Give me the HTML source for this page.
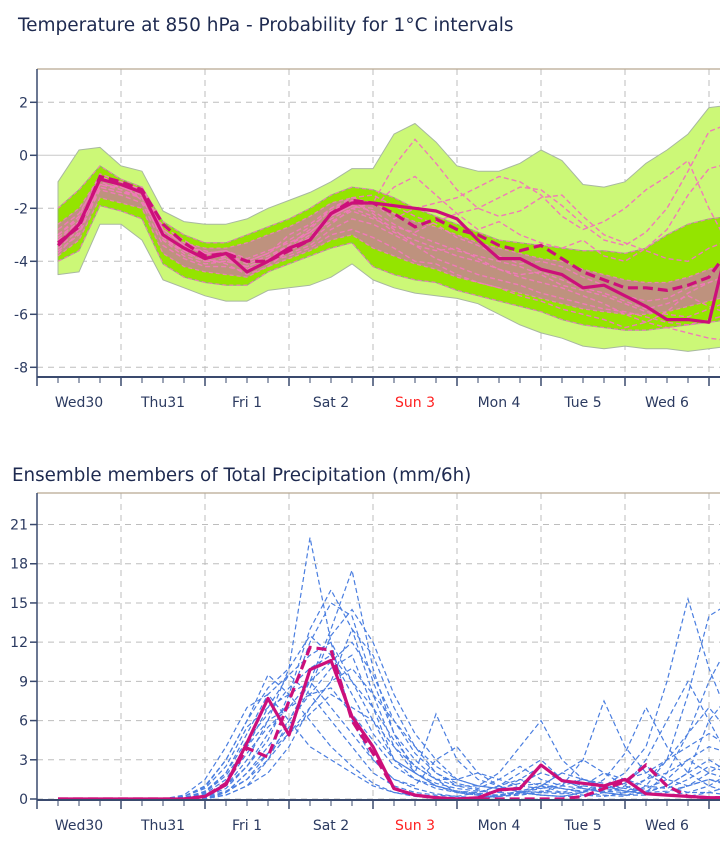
<!DOCTYPE html>
<html><head><meta charset="utf-8">
<style>
body{margin:0;background:#fff;width:720px;height:863px;overflow:hidden;font-family:"Liberation Sans","DejaVu Sans",sans-serif}
svg{display:block}
</style></head>
<body>
<svg id="chart" width="720" height="863" viewBox="0 0 720 863" xmlns="http://www.w3.org/2000/svg" font-family="DejaVu Sans, Liberation Sans, sans-serif">
<defs>
<clipPath id="clipT"><rect x="37" y="69" width="683" height="308"/></clipPath>
<clipPath id="clipB"><rect x="37" y="493" width="683" height="307"/></clipPath>
</defs>
<text x="18" y="31" font-size="18.5" fill="#1e2a50">Temperature at 850 hPa - Probability for 1°C intervals</text>
<text x="12" y="481" font-size="18.3" fill="#1e2a50">Ensemble members of Total Precipitation (mm/6h)</text>
<g id="topPlot"></g>
<g id="botPlot"></g>
</svg>
<script>
const days = ["Wed30","Thu31","Fri 1","Sat 2","Sun 3","Mon 4","Tue 5","Wed 6"];
const tempTicks = [2,0,-2,-4,-6,-8];
const precTicks = [0,3,6,9,12,15,18,21];
const outerHi = [-1.0,0.2,0.3,-0.4,-0.6,-2.1,-2.5,-2.6,-2.6,-2.4,-2.0,-1.7,-1.4,-1.0,-0.5,-0.5,0.8,1.2,0.5,-0.4,-0.6,-0.6,-0.3,0.2,-0.2,-1.1,-1.2,-1.0,-0.3,0.2,0.8,1.8,1.9];
const outerLo = [-4.5,-4.4,-2.6,-2.6,-3.2,-4.7,-5.0,-5.3,-5.5,-5.5,-5.1,-5.0,-4.9,-4.6,-4.1,-4.7,-5.0,-5.2,-5.3,-5.4,-5.6,-6.0,-6.4,-6.7,-6.9,-7.2,-7.3,-7.2,-7.3,-7.3,-7.4,-7.3,-7.2];
const midHi = [-2.0,-1.3,-0.4,-0.9,-1.2,-2.5,-3.0,-3.3,-3.3,-3.0,-2.7,-2.4,-2.0,-1.5,-1.2,-1.3,-1.6,-2.0,-2.3,-2.6,-2.9,-3.2,-3.3,-3.4,-3.5,-3.6,-3.6,-3.7,-3.5,-3.0,-2.6,-2.4,-2.3];
const midLo = [-4.0,-3.6,-1.9,-2.1,-2.4,-4.1,-4.6,-4.8,-4.9,-4.9,-4.4,-4.1,-3.8,-3.5,-3.3,-4.2,-4.5,-4.7,-4.8,-5.1,-5.3,-5.5,-5.7,-5.9,-6.2,-6.4,-6.5,-6.6,-6.6,-6.5,-6.4,-6.3,-6.2];
const innerHi = [-2.6,-2.0,-0.8,-1.1,-1.4,-2.8,-3.3,-3.5,-3.5,-3.3,-3.0,-2.7,-2.3,-1.8,-1.6,-1.8,-2.2,-2.5,-2.7,-3.0,-3.3,-3.5,-3.7,-3.9,-4.0,-4.3,-4.5,-4.7,-4.8,-4.8,-4.6,-4.3,-4.0];
const innerLo = [-3.8,-3.2,-1.6,-1.8,-2.0,-3.7,-4.2,-4.4,-4.5,-4.6,-4.2,-3.9,-3.6,-3.2,-3.0,-3.5,-3.8,-4.1,-4.3,-4.6,-4.8,-5.0,-5.2,-5.4,-5.6,-5.8,-5.9,-6.0,-6.0,-5.9,-5.7,-5.5,-5.3];
const tempControl = [-3.4,-2.6,-0.9,-1.1,-1.4,-3.0,-3.5,-3.9,-3.7,-4.4,-4.0,-3.5,-3.2,-2.2,-1.8,-1.8,-1.9,-2.0,-2.1,-2.4,-3.2,-3.9,-3.9,-4.3,-4.5,-5.0,-4.9,-5.3,-5.7,-6.2,-6.2,-6.3,-3.0];
const tempMain = [-3.3,-2.7,-0.8,-1.0,-1.3,-2.6,-3.3,-3.8,-3.7,-4.0,-4.0,-3.6,-3.2,-2.2,-1.7,-1.8,-2.2,-2.7,-2.4,-2.8,-3.0,-3.4,-3.6,-3.4,-3.9,-4.4,-4.7,-5.0,-5.0,-5.1,-4.9,-4.6,-3.5];
const t1 = [-3.0,-2.3,-0.7,-1.0,-1.3,-2.8,-3.4,-3.7,-3.6,-3.9,-3.6,-3.3,-2.9,-2.3,-1.9,-2.0,-1.2,-0.8,-1.5,-2.2,-2.8,-2.5,-3.0,-3.3,-3.5,-3.2,-3.8,-4.0,-3.5,-2.8,-1.5,-0.5,-0.3];
const t2 = [-3.6,-3.0,-1.2,-1.4,-1.6,-3.2,-3.8,-4.1,-4.0,-4.2,-3.9,-3.7,-3.4,-2.8,-2.4,-2.6,-3.0,-3.4,-3.9,-4.2,-4.5,-4.7,-4.9,-5.2,-5.4,-5.6,-5.8,-5.9,-6.1,-6.3,-6.4,-6.2,-6.0];
const t3 = [-2.8,-2.2,-0.9,-1.2,-1.5,-2.9,-3.5,-3.6,-3.8,-4.0,-3.7,-3.0,-2.6,-2.0,-1.6,-1.5,-1.9,-2.3,-2.6,-3.1,-3.4,-3.8,-4.1,-4.0,-4.2,-4.6,-4.9,-5.3,-5.5,-5.4,-5.0,-4.8,-4.5];
const t4 = [-3.4,-2.6,-1.0,-1.3,-1.2,-2.7,-3.2,-3.7,-3.9,-4.3,-4.1,-3.5,-3.0,-2.5,-2.1,-2.4,-2.7,-2.9,-2.5,-2.2,-2.0,-1.6,-1.2,-1.3,-1.9,-2.6,-3.2,-3.4,-2.9,-2.0,-0.6,0.9,1.2];
const t5 = [-3.2,-2.5,-0.8,-1.1,-1.7,-3.1,-3.6,-3.9,-3.8,-4.1,-3.8,-3.4,-2.8,-2.0,-1.7,-2.2,-2.8,-3.4,-3.6,-3.5,-3.9,-4.3,-4.6,-4.8,-5.0,-5.3,-5.6,-6.0,-6.3,-6.5,-6.7,-6.9,-7.0];
const t6 = [-3.0,-2.4,-1.1,-1.2,-1.4,-3.0,-3.5,-3.9,-4.1,-4.5,-4.2,-3.6,-3.2,-2.6,-2.0,-1.8,-0.4,0.6,-0.3,-1.3,-2.0,-2.3,-2.1,-1.6,-1.5,-2.3,-3.0,-3.3,-3.6,-3.9,-4.0,-3.5,-3.2];
const t7 = [-3.7,-2.9,-1.3,-1.5,-1.8,-3.4,-3.9,-4.2,-4.2,-4.4,-4.0,-3.8,-3.5,-3.0,-2.8,-3.1,-3.5,-4.0,-4.1,-4.5,-4.8,-5.0,-5.3,-5.5,-5.8,-6.0,-6.2,-6.5,-6.3,-5.9,-5.2,-4.8,-4.5];
const t8 = [-3.1,-2.5,-0.9,-1.0,-1.3,-2.8,-3.4,-3.7,-3.6,-4.0,-3.7,-3.2,-2.7,-2.1,-1.7,-1.8,-2.4,-2.0,-1.8,-1.6,-1.2,-0.8,-1.0,-1.5,-2.3,-2.8,-2.5,-2.0,-1.3,-0.8,-0.2,-2.0,-3.5];
const t9 = [-3.3,-2.7,-1.2,-1.4,-1.5,-3.1,-3.7,-4.0,-3.9,-4.3,-4.0,-3.5,-3.1,-2.4,-2.0,-2.3,-2.9,-3.2,-3.5,-3.8,-4.0,-4.3,-4.5,-4.4,-4.7,-5.0,-5.2,-5.5,-5.8,-5.6,-5.3,-5.7,-6.0];
const t10 = [-3.5,-2.8,-1.1,-1.3,-1.6,-3.2,-3.6,-4.0,-4.0,-4.2,-3.9,-3.4,-2.9,-2.3,-1.9,-2.1,-2.6,-3.0,-3.3,-3.6,-3.8,-4.0,-4.2,-4.5,-4.9,-5.1,-5.3,-5.6,-5.9,-6.0,-6.1,-5.8,-5.5];
const precControl = [0,0,0,0,0,0,0,0.2,1.1,4.3,7.7,4.9,9.9,10.6,6.3,4.0,0.8,0.3,0.1,0,0.1,0.7,0.8,2.6,1.4,1.2,1.0,1.5,0.4,0.3,0.2,0.1,0.1];
const precMain = [0,0,0,0,0,0,0,0.2,1.2,3.9,3.2,7.5,11.6,11.4,6.0,3.5,0.8,0.3,0.1,0,0,0,0,0,0,0.2,0.8,1.3,2.6,1.0,0.2,0.1,0.1];
const p1 = [0,0,0,0,0,0,0.1,0.5,2,5,8,9.5,8,6,4,2,1,0.5,0.3,0.2,0.5,1,1.5,1,0.5,0.3,0.2,0.5,1.5,3,5,7,5];
const p2 = [0,0,0,0,0,0,0,0.3,1,3,6,10,20,12,6,3,1.5,0.8,0.4,0.2,0.1,0.3,0.6,1,2,1.5,1,0.6,0.4,0.3,0.5,1,2];
const p3 = [0,0,0,0,0,0,0,0.1,0.5,1.5,3,6,9,13,17.5,10,5,2,1,0.6,0.5,1,2,3,1.5,0.8,0.5,0.3,0.5,1,2,3,2];
const p4 = [0,0,0,0,0,0,0.2,1,3,6,9.5,8,6,4,2.5,1.2,0.5,0.2,0.1,0,0,0.2,0.5,0.3,0.2,0.5,1.5,3.5,7,4,2,1,0.5];
const p5 = [0,0,0,0,0,0,0,0.2,1,2.5,5,7.5,12,15,14,9,5,3,1.5,0.5,0.3,0.3,0.6,1,0.8,0.5,0.3,0.2,1,3,8,14,15];
const p6 = [0,0,0,0,0,0,0,0,0.5,2,4,6,8,10,11,7,3,2,6.5,3,1.5,1,0.5,0.3,0.2,0.5,1,2,4,9,15.3,10,6];
const p7 = [0,0,0,0,0,0,0.1,0.4,1.5,4,7,9.5,11,12,9,6,3,1.5,0.8,0.5,0.4,0.6,1.5,2.5,1.5,0.8,0.5,0.3,0.3,0.5,1,1.5,1];
const p8 = [0,0,0,0,0,0,0,0.1,0.3,1,2,4,7,9,13,11,7,4,2,1,1,2,4,6,3,1.5,1,0.6,0.4,0.3,0.2,0.5,1];
const p9 = [0,0,0,0,0,0,0.3,1.5,4,7,8,6,4,3,2,1,0.5,0.3,0.2,0.1,0.1,0.2,0.3,0.5,1,3,7.5,4,2,1,0.5,0.5,0.3];
const p10 = [0,0,0,0,0,0,0,0.2,0.8,2.5,4.5,8,13,16,13,8,4,2,1,0.5,0.3,0.2,0.4,1,2,3,2,1,0.5,2,5,9,12];
const p11 = [0,0,0,0,0,0,0,0,0.3,1,3,5,7,9,10,8,6,4,2.5,1.5,1,0.8,0.6,0.5,0.4,0.6,1,1.5,2,3,4,5,4];
const p12 = [0,0,0,0,0,0,0.2,0.8,2.5,5.5,7,8,9,7,5,3,1.5,1,3,4,2,1,0.5,0.3,0.2,0.2,0.5,1,3,6,9,6,3];
const p13 = [0,0,0,0,0,0,0.1,0.6,2,4.5,6.5,8.5,10,11,8,5,3,2,1.2,0.8,0.6,0.5,1,1.2,0.8,0.6,0.8,1.2,2.5,1.5,1,2,3];
const p14 = [0,0,0,0,0,0,0,0.3,1.2,3.5,5.5,7,9,10.5,12,9.5,6,3.5,2,1.2,0.8,1.5,2.5,1.5,1,0.8,0.6,0.5,0.8,1.5,3,4,3.5];
const p15 = [0,0,0,0,0,0,0.2,0.9,3,6,8.5,10,12.5,11,9,7,4.5,2.5,1.5,1,0.7,0.5,0.4,0.6,0.5,1,2,1.5,1,0.8,1.5,2.5,2];
const p16 = [0,0,0,0,0,0,0,0.2,0.6,1.5,3.5,5,6.5,8,7,6,4,2.5,1.5,1.5,2,1.5,1,0.8,1,1.5,1.2,0.8,0.6,1,2,6,8];
const p17 = [0,0,0,0,0,0,0.1,0.5,1.8,4,6,7,8,8.5,6.5,4.5,2.5,1.5,1,0.6,0.4,0.3,0.5,0.8,1.2,1.5,1,0.8,1.5,2,3,2,1.5];
const p18 = [0,0,0,0,0,0,0,0.1,0.5,2,3.5,5.5,8.5,12.5,14.5,12,8,5,3,1.5,1,0.8,1.2,2,1.5,1,0.8,0.6,0.5,0.6,1,1.5,1.2];

const NS = "http://www.w3.org/2000/svg";
function mk(parent, tag, attrs){const e=document.createElementNS(NS,tag);for(const k in attrs)e.setAttribute(k,attrs[k]);parent.appendChild(e);return e;}
const X0 = 37, DAY = 84;
function xStep(i){return X0 + DAY/4*(i+1);}
function yT(v){return 155.3 - 26.5*v;}
function yP(v){return 799 - 13.07*v;}
function pts(arr, yf){return arr.map((v,i)=>xStep(i).toFixed(1)+","+yf(v).toFixed(1)).join(" ");}
function band(hi, lo, yf){return hi.map((v,i)=>xStep(i).toFixed(1)+","+yf(v).toFixed(1)).concat(lo.map((v,i)=>xStep(i).toFixed(1)+","+yf(v).toFixed(1)).reverse()).join(" ");}

function frame(g, y0, y1, ticks, yf, kind){
  ticks.forEach(t=>{
    const y=yf(t);
    const solid = (t===0 && kind==='temp');
    const gl=mk(g,"line",{x1:X0,x2:720,y1:y,y2:y,stroke: solid?"#c8c8c8":"#bdbdbd","stroke-width":1,"stroke-dasharray":solid?"none":"6,5"});
    
    
    const tk=mk(g,"line",{x1:X0-7,x2:X0,y1:y,y2:y,stroke:"#3a4a6e","stroke-width":1.5});
    
    
    const tl=mk(g,"text",{x:X0-9,y:y+5,"font-size":14,"text-anchor":"end",fill:"#2b3a60"});
    tl.textContent=String(t);
    
    
  });
  for(let d=1; d<=8; d++){
    const x=X0+DAY*d;
    const gl=mk(g,"line",{x1:x,x2:x,y1:y0,y2:y1,stroke:"#bdbdbd","stroke-width":1,"stroke-dasharray":"6,5"});
    
    
  }
}
function axes(g, y0, y1){
  const tb=mk(g,"line",{x1:X0,x2:720,y1:y0,y2:y0,stroke:"#b8a890","stroke-width":1.2});
  
  
  const la=mk(g,"line",{x1:X0,x2:X0,y1:y0,y2:y1,stroke:"#3a4a6e","stroke-width":1.5});
  
  
  const ba=mk(g,"line",{x1:X0,x2:720,y1:y1,y2:y1,stroke:"#3a4a6e","stroke-width":2});
  
  
  for(let q=0;q<=32;q++){
    const x=X0+DAY/4*q; const major=q%4===0;
    const tk=mk(g,"line",{x1:x,x2:x,y1:y1,y2:y1+(major?9:6),stroke:"#3a4a6e","stroke-width":major?1.5:1});
    
    
  }
  days.forEach((d,i)=>{
    const t=mk(g,"text",{x:X0+DAY*i+DAY/2,y:y1+30,"font-size":14,"text-anchor":"middle",fill:d==="Sun 3"?"#ff2020":"#2b3a60"});
    t.textContent=d;
    
    
  });
}

// TOP CHART
const topG=document.getElementById('topPlot');
frame(topG,69,377,tempTicks,yT,'temp');
const tc=mk(topG,"g",{"clip-path":"url(#clipT)"});
const b1=mk(tc,"polygon",{points:band(outerHi,outerLo,yT),fill:"#ccf877",stroke:"#a8b8a0","stroke-width":1,"stroke-linejoin":"round"});


const b2=mk(tc,"polygon",{points:band(midHi,midLo,yT),fill:"#94e400",stroke:"#8fb070","stroke-width":1});


const b3=mk(tc,"polygon",{points:band(innerHi,innerLo,yT),fill:"#7f9a3c",opacity:0.8});


const b4=mk(tc,"polygon",{points:band(innerHi,innerLo,yT),fill:"#ee7fbf",opacity:0.55});


[t1,t2,t3,t4,t5,t6,t7,t8,t9,t10].forEach(m=>{
  const l=mk(tc,"polyline",{points:pts(m,yT),fill:"none",stroke:"#f07ab8","stroke-width":1.4,"stroke-dasharray":"5,3"});
  
  
});
[innerHi,innerLo,midHi,midLo].forEach(m=>{
  const l=mk(tc,"polyline",{points:pts(m,yT),fill:"none",stroke:"#f080bb","stroke-width":1.3,"stroke-dasharray":"4,3",opacity:0.85});
  
  
});
const tcl=mk(tc,"polyline",{points:pts(tempControl,yT),fill:"none",stroke:"#cc0f7a","stroke-width":3.2,"stroke-linejoin":"round"});


const tml=mk(tc,"polyline",{points:pts(tempMain,yT),fill:"none",stroke:"#cc0f7a","stroke-width":3.2,"stroke-dasharray":"10,5"});


axes(topG,69,377);

// BOTTOM CHART
const botG=document.getElementById('botPlot');
frame(botG,493,800,precTicks,yP,'prec');
const bc=mk(botG,"g",{"clip-path":"url(#clipB)"});
[p1,p2,p3,p4,p5,p6,p7,p8,p9,p10,p11,p12,p13,p14,p15,p16,p17,p18].forEach(m=>{
  const l=mk(bc,"polyline",{points:pts(m,yP),fill:"none",stroke:"#4a7ee0","stroke-width":1.2,"stroke-dasharray":"5,3"});
  
  
});
const pcl=mk(bc,"polyline",{points:pts(precControl,yP),fill:"none",stroke:"#cc0f7a","stroke-width":3.2,"stroke-linejoin":"round"});


const pml=mk(bc,"polyline",{points:pts(precMain,yP),fill:"none",stroke:"#cc0f7a","stroke-width":3.2,"stroke-dasharray":"10,5"});


axes(botG,493,800);
</script>
</body></html>
